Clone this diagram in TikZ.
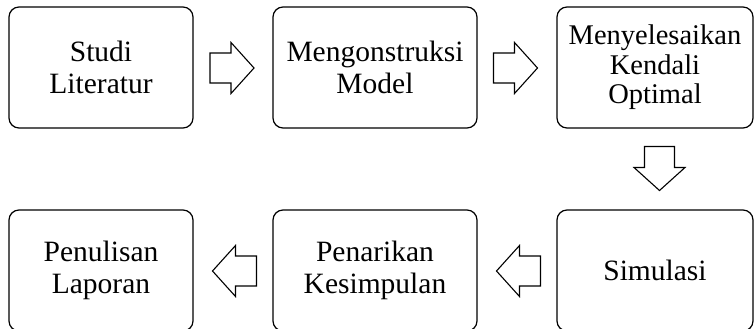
\documentclass[tikz,border=0pt]{standalone}
\usepackage{fontspec}
\setmainfont{Liberation Serif}
\tikzset{
  stepbox/.style={draw, line width=1.2pt, rounded corners=10pt, align=center,
    minimum height=121pt, inner sep=0pt,
    font=\fontsize{29.5}{31.5}\selectfont},
  tightbox/.style={font=\fontsize{28.5}{29.5}\selectfont},
  flowarrow/.pic={
    \draw[line width=1.1pt, line join=miter]
      (-22,-15) -- (-1,-15) -- (-1,-25.5) -- (22,0) -- (-1,25.5) -- (-1,15) -- (-22,15) -- cycle;}
}
\begin{document}
\begin{tikzpicture}[x=1pt,y=-1pt]
\useasboundingbox (0,0) rectangle (755,329);
\begin{scope}
\clip (0,0) rectangle (755,329);
\node[stepbox, minimum width=184pt] (s1) at (101,67.5) {Studi\\Literatur};
\node[stepbox, minimum width=204pt] (s2) at (375,67.5) {Mengonstruksi\\Model};
\node[stepbox, tightbox, minimum width=196pt] (s3) at (655,67.5) {Menyelesaikan\\Kendali\\Optimal};
\node[stepbox, minimum width=196pt] (s4) at (655,270.5) {Simulasi};
\node[stepbox, minimum width=204pt] (s5) at (375,270.5) {Penarikan\\Kesimpulan};
\node[stepbox, minimum width=184pt] (s6) at (101,270.5) {Penulisan\\Laporan};
\end{scope}
\pic (a1) at (232,68) {flowarrow};
\pic (a2) at (515.5,68) {flowarrow};
\pic[rotate=-90] (a3) at (659.5,168.5) {flowarrow};
\pic[rotate=180] (a4) at (518.5,271) {flowarrow};
\pic[rotate=180] (a5) at (234.5,271) {flowarrow};
\end{tikzpicture}
\end{document}
